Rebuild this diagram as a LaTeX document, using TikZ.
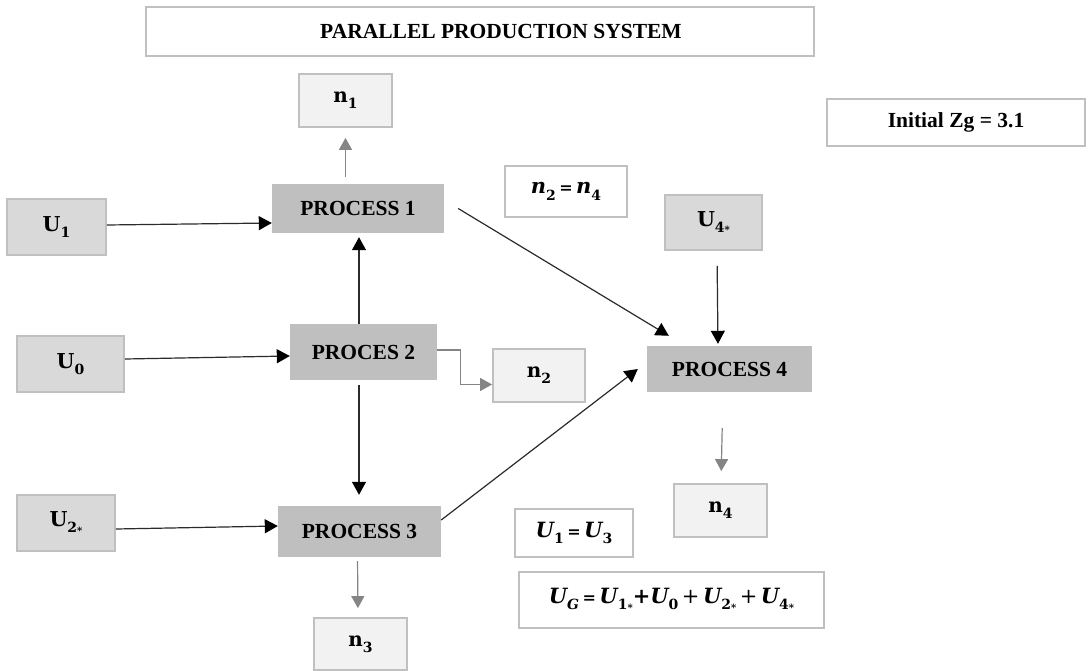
\documentclass[tikz,border=0pt]{standalone}
\usepackage{fontspec}
\setmainfont{Liberation Serif}
\newfontfamily\symf{DejaVu Serif}
\usetikzlibrary{arrows.meta}
\definecolor{procfill}{HTML}{BFBFBF}
\definecolor{ufill}{HTML}{D9D9D9}
\definecolor{nfill}{HTML}{F2F2F2}
\definecolor{bordc}{HTML}{C0C0C0}
\definecolor{gryarr}{HTML}{858585}
\definecolor{blkarr}{HTML}{2B2B2B}
\newcommand\lsub[1]{\raisebox{-0.3em}{\fontsize{14}{14}\selectfont\upshape #1}}
\newcommand\str{\raisebox{-0.12em}{\fontsize{10}{10}\selectfont *}}
\tikzset{
  box/.style={rectangle, inner sep=0pt, font=\fontsize{21.5}{24}\selectfont\bfseries},
  procbox/.style={box, fill=procfill},
  ubox/.style={box, fill=ufill, draw=bordc, line width=1.8pt, font=\symf\fontsize{20.5}{24}\selectfont\bfseries},
  nbox/.style={box, fill=nfill, draw=bordc, line width=1.8pt, font=\symf\fontsize{20}{24}\selectfont\bfseries},
  wbox/.style={box, fill=white, draw=bordc, line width=1.8pt},
  eqbox/.style={wbox, font=\symf\fontsize{21}{24}\selectfont\bfseries\itshape},
  blk/.style={draw=blkarr, line width=1.2pt, -{Triangle[width=14pt,length=13pt,color=black]}},
  gry/.style={draw=gryarr, line width=1.2pt, -{Triangle[width=13pt,length=12pt]}}
}
\begin{document}
\begin{tikzpicture}[x=1pt,y=-1pt]
\useasboundingbox[fill=white] (0,0) rectangle (1089,671);

\node[wbox, minimum width=668, minimum height=49] (title) at (480,31.5) {\hspace*{42pt}PARALLEL PRODUCTION SYSTEM};
\node[wbox, minimum width=258, minimum height=47] (zg) at (956,122.5) {Initial Zg = 3.1};

\node[procbox, minimum width=172, minimum height=49] (p1) at (358,208.5) {PROCESS 1};
\node[procbox, minimum width=147, minimum height=56] (p2) at (363.5,352) {PROCES 2};
\node[procbox, minimum width=163, minimum height=51] (p3) at (359.5,531.5) {PROCESS 3};
\node[procbox, minimum width=165, minimum height=46] (p4) at (729.5,369) {PROCESS 4};

\node[ubox, minimum width=99, minimum height=56] (u1) at (56.5,227) {U\lsub{1}};
\node[ubox, minimum width=107, minimum height=56] (u0) at (70.5,364) {U\lsub{0}};
\node[ubox, minimum width=98, minimum height=56] (u2) at (66,523) {U\lsub{2\str}};
\node[ubox, minimum width=97, minimum height=55] (u4) at (713.5,222.5) {U\lsub{4\str}};

\node[nbox, minimum width=93, minimum height=53] (n1) at (345.5,100.5) {n\lsub{1}};
\node[nbox, minimum width=92, minimum height=53] (n2) at (539,375.5) {n\lsub{2}};
\node[nbox, minimum width=93, minimum height=52] (n3) at (360.5,644) {n\lsub{3}};
\node[nbox, minimum width=93, minimum height=53] (n4) at (720.5,510.5) {n\lsub{4}};

\node[eqbox, minimum width=122, minimum height=51] (neq) at (566,191.5) {n\lsub{2}\,{\upshape\fontsize{16}{16}\selectfont =}\,n\lsub{4}};
\node[eqbox, minimum width=118, minimum height=48] (ueq) at (574,533) {U\lsub{1}\,{\upshape\fontsize{16}{16}\selectfont =}\,U\lsub{3}};
\node[eqbox, minimum width=305, minimum height=56] (ug) at (671.5,600) {U\lsub{\itshape G}\,{\upshape\fontsize{16}{16}\selectfont =}\,U\lsub{1\str}{\upshape +}U\lsub{0}\,{\upshape\mdseries +}\,U\lsub{2\str}\,{\upshape\mdseries +}\,U\lsub{4\str}};

% black connectors
\draw[blk] ([yshift=2]u1.east) -- ([yshift=-14.5]p1.west);
\draw[blk] ([yshift=5]u0.east) -- ([yshift=-4]p2.west);
\draw[blk] ([yshift=-6]u2.east) -- ([yshift=5.5]p3.west);
\draw[blk, shorten >=4] ([xshift=-4.5]p2.north) -- ([xshift=1]p1.south);
\draw[blk, shorten <=5, shorten >=11] ([xshift=-4.5]p2.south) -- ([xshift=-0.5]p3.north);
\draw[blk] ([xshift=14]p1.east) -- ([xshift=22,yshift=10]p4.north west);
\draw[blk] ([yshift=11.5]p3.east) -- ([xshift=-9]p4.west);
\draw[blk, shorten <=15, shorten >=2] ([xshift=3.5]u4.south) -- ([xshift=-11.5]p4.north);

% gray connectors
\draw[gry, shorten <=7, shorten >=10] (p1.north -| n1.south) -- (n1.south);
\draw[gry, shorten <=4, shorten >=9] ([xshift=-2]p3.south) -- ([xshift=-2.5]n3.north);
\draw[gry] ([yshift=2]p2.east) -- ++(23,0) |- ([yshift=-9]n2.west);
\draw[gry, shorten <=36, shorten >=12] ([xshift=-6.5]p4.south) -- ([xshift=0.5]n4.north);
\end{tikzpicture}
\end{document}
